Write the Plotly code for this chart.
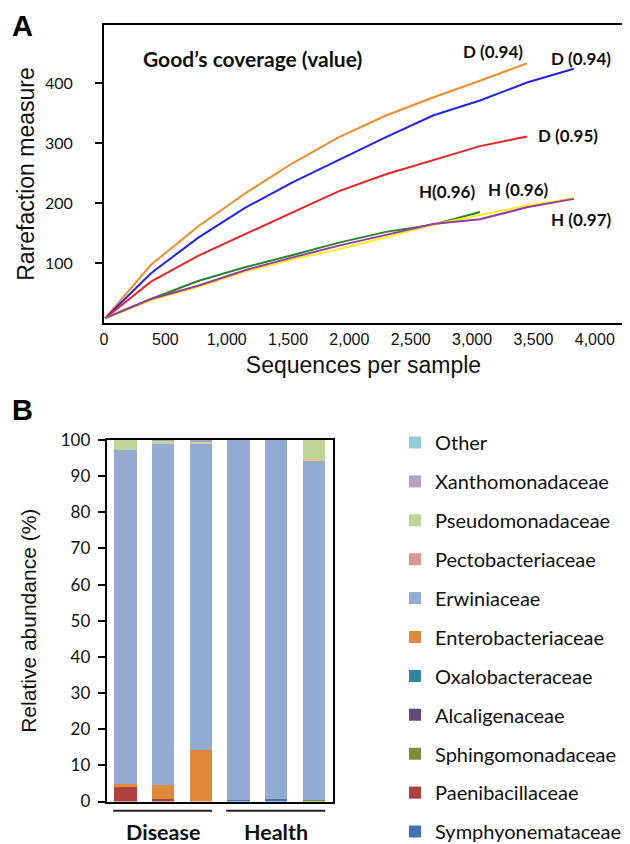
import plotly.graph_objects as go

# ---------------- Panel A data: rarefaction curves ----------------
seq_depth = [10, 383, 766, 1149, 1532, 1915, 2298, 2681, 3064, 3447, 3830]

rare_orange = [8, 97, 161, 216, 266, 310, 346, 376, 404, 433]
rare_blue = [8, 83, 142, 192, 234, 272, 310, 346, 371, 401, 424]
rare_red = [8, 69, 112, 148, 183, 220, 248, 272, 295, 311]
rare_green = [8, 40, 70, 93, 113, 134, 152, 164, 185]
rare_yellow = [8, 38, 60, 86, 106, 123, 143, 164, 180, 196, 208]
rare_purple = [8, 40, 62, 88, 109, 129, 147, 165, 173, 193, 207]

curve_labels = ["D (0.94)", "D (0.94)", "D (0.95)", "H(0.96)", "H (0.96)", "H (0.97)"]

# ---------------- Panel B data: relative abundance ----------------
samples = ["D1", "D2", "D3", "H1", "H2", "H3"]
groups = ["Disease", "Health"]

families = ["Symphyonemataceae", "Paenibacillaceae", "Sphingomonadaceae",
            "Alcaligenaceae", "Oxalobacteraceae", "Enterobacteriaceae",
            "Erwiniaceae", "Pectobacteriaceae", "Pseudomonadaceae",
            "Xanthomonadaceae", "Other"]

symphyonemataceae = [0, 0, 0, 0.4, 0.6, 0]
paenibacillaceae = [3.9, 0.7, 0, 0, 0, 0]
sphingomonadaceae = [0, 0, 0, 0, 0, 0.4]
alcaligenaceae = [0, 0, 0, 0, 0, 0]
oxalobacteraceae = [0, 0, 0, 0, 0, 0]
enterobacteriaceae = [1.0, 4.0, 14.3, 0, 0, 0]
erwiniaceae = [92.4, 94.1, 84.6, 99.6, 99.4, 93.6]
pectobacteriaceae = [0, 0, 0, 0, 0, 0.2]
pseudomonadaceae = [2.7, 1.0, 0.5, 0, 0, 5.8]
xanthomonadaceae = [0, 0.2, 0.6, 0, 0, 0]
other = [0, 0, 0, 0, 0, 0]

abundances = [symphyonemataceae, paenibacillaceae, sphingomonadaceae,
              alcaligenaceae, oxalobacteraceae, enterobacteriaceae,
              erwiniaceae, pectobacteriaceae, pseudomonadaceae,
              xanthomonadaceae, other]

# ---------------- Styles / geometry ----------------
# the page body has an 8px margin, so the figure is sized to fill the rest
OFF = 8
FW, FH = 630 - OFF, 844 - OFF


def px(x):
    return (x - OFF) / FW


def py(y):
    return 1 - (y - OFF) / FH


curve_series = [rare_orange, rare_blue, rare_red, rare_green, rare_yellow, rare_purple]
curve_colors = ["#F28C28", "#2323EE", "#EE2424", "#22882A", "#F4F21E", "#9B38A6"]
# label offsets (px) relative to each curve end point
label_shift = [(-34, 12), (7, 10), (41, 1), (-33, 21), (-55, 9), (8, -21)]

family_colors = ["#4472B0", "#B0403E", "#76933C", "#604A7B", "#31859C",
                 "#E08A3C", "#93AAD2", "#D99694", "#C0D597", "#B3A2C7",
                 "#93CDDD"]

fig = go.Figure()

for ys, col, lab, (dx, dy) in zip(curve_series, curve_colors, curve_labels, label_shift):
    xs = seq_depth[:len(ys)]
    fig.add_trace(go.Scatter(x=xs, y=ys, mode="lines",
                             line=dict(color=col, width=2),
                             showlegend=False, xaxis="x", yaxis="y"))
    fig.add_annotation(x=xs[-1], y=ys[-1], xref="x", yref="y", text=lab,
                       showarrow=False, xshift=dx, yshift=dy,
                       xanchor="center", yanchor="middle",
                       font=dict(family="Lato", size=17, color="#111111", weight="bold"))

# legend is split in two stacked blocks (top 6 / bottom 5) so neither needs scrolling
n_fam = len(families)
n_lower = 5
for i, (fam, vals, col) in enumerate(zip(families, abundances, family_colors)):
    fig.add_trace(go.Bar(x=samples, y=vals, name=fam, legendgroup=fam,
                         legendrank=100 + (n_fam - i),
                         legend="legend2" if i < n_lower else "legend",
                         marker=dict(color=col, line=dict(width=0)),
                         xaxis="x2", yaxis="y2"))

axis_line = dict(showline=True, linecolor="black", linewidth=2, mirror=True,
                 showgrid=False, zeroline=False, automargin=False)

legend_font = 20
item_step = 38.9
first_item_y = 443
legend_style = dict(xref="container", yref="container", xanchor="left", yanchor="top",
                    traceorder="grouped",
                    tracegroupgap=item_step - (legend_font * 1.3 + 3),
                    font=dict(family="Lato", size=legend_font, color="#111111"),
                    bgcolor="rgba(0,0,0,0)")

fig.update_layout(
    width=FW, height=FH,
    margin=dict(l=0, r=0, t=0, b=0, autoexpand=False),
    paper_bgcolor="white", plot_bgcolor="white",
    font=dict(family="Lato", color="#111111"),
    barmode="stack", bargap=0.406,
    xaxis=dict(domain=[px(104), px(623)], range=[0, 4230], anchor="y",
               tickvals=[0, 500, 1000, 1500, 2000, 2500, 3000, 3500, 4000],
               tickformat=",d", ticks="", ticklabelstandoff=1,
               tickfont=dict(family="Liberation Sans", size=16, color="#111111"),
               title=dict(text="Sequences per sample", standoff=10,
                          font=dict(family="Liberation Sans", size=23, color="#111111")),
               **axis_line),
    yaxis=dict(domain=[py(323), py(25)], range=[0, 497], anchor="x",
               tickvals=[100, 200, 300, 400], ticks="outside", ticklen=7,
               tickwidth=1.5, tickcolor="black", ticklabelstandoff=19,
               tickfont=dict(family="Lato", size=16, color="#111111"),
               title=dict(text="Rarefaction measure", standoff=4,
                          font=dict(family="Liberation Sans", size=23, color="#111111")),
               **axis_line),
    xaxis2=dict(domain=[px(106.7), px(332.7)], anchor="y2",
                showticklabels=False, ticks="", **axis_line),
    yaxis2=dict(domain=[py(801.5), py(440)], range=[0, 100], anchor="x2",
                dtick=10, ticks="outside", ticklen=7, tickwidth=1.5,
                tickcolor="black", ticklabelstandoff=4,
                tickfont=dict(family="Lato", size=17, color="#111111"),
                title=dict(text="Relative abundance (%)", standoff=18,
                           font=dict(family="Liberation Sans", size=21, color="#111111")),
                **axis_line),
    legend=dict(x=px(395), y=py(first_item_y - 20), **legend_style),
    legend2=dict(x=px(395), y=py(first_item_y + (n_fam - n_lower) * item_step - 20),
                 **legend_style),
)

# panel letters and title
fig.add_annotation(x=px(22.5), y=py(26), xref="paper", yref="paper", text="A",
                   showarrow=False, xanchor="center", yanchor="middle",
                   font=dict(family="Liberation Sans", size=29, weight="bold", color="black"))
fig.add_annotation(x=px(22), y=py(410), xref="paper", yref="paper", text="B",
                   showarrow=False, xanchor="center", yanchor="middle",
                   font=dict(family="Liberation Sans", size=29, weight="bold", color="black"))
fig.add_annotation(x=px(252.5), y=py(58), xref="paper", yref="paper",
                   text="Good\u2019s coverage (value)", showarrow=False,
                   xanchor="center", yanchor="middle",
                   font=dict(family="Lato", size=21, weight="bold", color="#111111"))

# group brackets under the bars
n_per_group = len(samples) // len(groups)
for gi, g in enumerate(groups):
    center = gi * n_per_group + (n_per_group - 1) / 2
    fig.add_shape(type="line", xref="x2", yref="paper",
                  x0=center - 1.33, x1=center + 1.30,
                  y0=py(810.7), y1=py(810.7),
                  line=dict(color="#222222", width=2))
    fig.add_annotation(x=center, y=py(832), xref="x2", yref="paper", text=g,
                       showarrow=False, xanchor="center", yanchor="middle",
                       font=dict(family="Lato", size=21.5, weight="bold", color="#111111"))

fig.write_html("out.html")
